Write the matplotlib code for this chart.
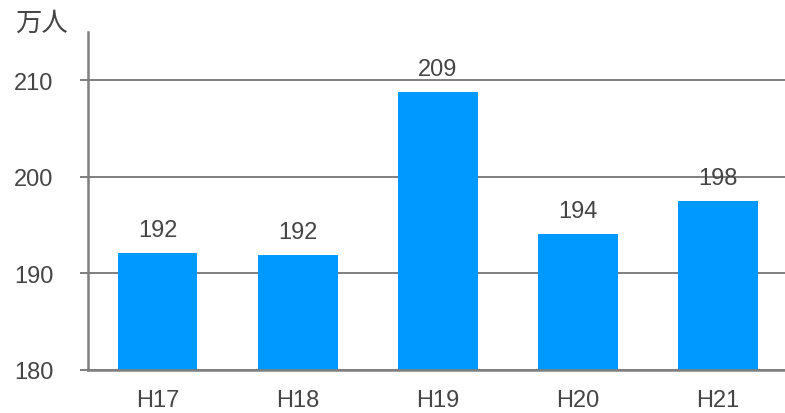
import matplotlib
matplotlib.use("Agg")
import matplotlib.pyplot as plt

plt.rcParams['font.family'] = ['Liberation Sans', 'Noto Sans CJK JP', 'DejaVu Sans']

# Annual visitors (10,000 persons)
years = ["H17", "H18", "H19", "H20", "H21"]
visitors = [192.1, 191.9, 208.8, 194.1, 197.5]
y_ticks = [180, 190, 200, 210]
unit_label = "万人"

bar_color = "#0099ff"
line_color = "#7f7f7f"
text_color = "#454545"
fs = 17

fig = plt.figure(figsize=(7.85, 4.14), dpi=100)
ax = fig.add_axes([88 / 785, 43 / 414, 1 - 88 / 785, 338 / 414])

x = list(range(len(years)))
ax.bar(x, visitors, width=0.57, color=bar_color, zorder=3)

ax.set_xlim(-0.496, 4.479)
ax.set_ylim(180, 215)
ax.set_yticks(y_ticks)
ax.set_xticks(x)
ax.set_xticklabels(years)

ax.yaxis.grid(True, color=line_color, linewidth=1.4, zorder=1)
ax.set_axisbelow(True)

for side in ("top", "right"):
    ax.spines[side].set_visible(False)
ax.spines["left"].set_color(line_color)
ax.spines["left"].set_linewidth(1.8)
ax.spines["bottom"].set_color(line_color)
ax.spines["bottom"].set_linewidth(1.8)
ax.spines["bottom"].set_zorder(4)

ax.tick_params(axis="y", length=6, width=1.4, color=line_color, pad=19,
               labelsize=fs, labelcolor=text_color)
ax.tick_params(axis="x", length=0, pad=14, labelsize=fs, labelcolor=text_color)

for xi, v in zip(x, visitors):
    ax.annotate(f"{v:.0f}", xy=(xi, v), xytext=(0, 12), textcoords="offset points",
                ha="center", va="baseline", fontsize=fs, color=text_color, zorder=5)

fig.text(41 / 785, 1 - 23 / 414, unit_label, ha="center", va="center",
         fontsize=19, color=text_color, family=['Noto Sans CJK JP', 'DejaVu Sans'])

fig.savefig("out.png", dpi=100)
